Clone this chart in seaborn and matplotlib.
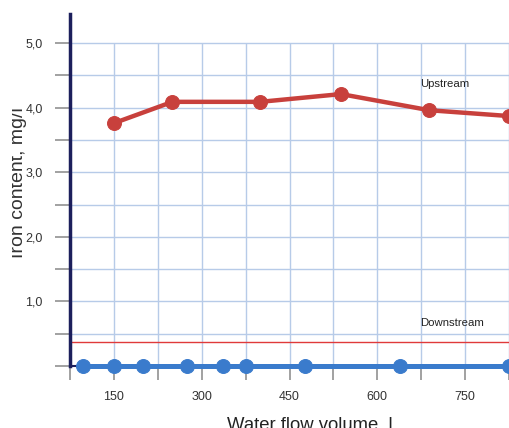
import numpy as np
import pandas as pd
import matplotlib
matplotlib.use("Agg")
import matplotlib.pyplot as plt
import seaborn as sns
from matplotlib.transforms import Bbox, TransformedBbox

# Data
upstream_x = [150, 250, 400, 538, 689, 825]
upstream_y = [3.76, 4.09, 4.09, 4.21, 3.96, 3.87]
downstream_x = [98, 150, 200, 275, 337, 375, 477, 638, 825]
downstream_y = [0, 0, 0, 0, 0, 0, 0, 0, 0]
limit_value = 0.37

x_ticks = [75, 150, 225, 300, 375, 450, 525, 600, 675, 750, 825]
x_labels = ["", "150", "", "300", "", "450", "", "600", "", "750", ""]
y_ticks = [0, 0.5, 1.0, 1.5, 2.0, 2.5, 3.0, 3.5, 4.0, 4.5, 5.0]
y_labels = ["", "", "1,0", "", "2,0", "", "3,0", "", "4,0", "", "5,0"]

sns.set_style("white")
plt.rcParams["font.family"] = ["Liberation Sans", "DejaVu Sans"]

up = pd.DataFrame({"flow": upstream_x, "iron": upstream_y})
down = pd.DataFrame({"flow": downstream_x, "iron": downstream_y})

fig = plt.figure(figsize=(5.09, 4.28), dpi=100)
ax = fig.add_axes([70 / 509, 62 / 428, 439 / 509, 352 / 428])

ax.set_xlim(75, 825)
ax.set_ylim(0, 5.45)

# grid (stops at 5,0)
grid_color = "#b7cbe8"
ax.hlines(y_ticks[1:], 75, 825, color=grid_color, lw=1.0, zorder=0)
ax.vlines(x_ticks[1:], 0, 5.0, color=grid_color, lw=1.0, zorder=0)

# limit line
ax.axhline(limit_value, color="#e03a3a", lw=1.0, zorder=1)

sns.lineplot(data=up, x="flow", y="iron", ax=ax, color="#c8403c", lw=3.2,
             marker="o", markersize=10, markeredgecolor="#c8403c",
             clip_on=False, zorder=3)
sns.lineplot(data=down, x="flow", y="iron", ax=ax, color="#3a7bcc", lw=3.6,
             marker="o", markersize=10, markeredgecolor="#3a7bcc",
             clip_on=False, zorder=4)

ax.text(716, 4.37, "Upstream", fontsize=8.2, ha="center", va="center", color="#222222")
ax.text(727, 0.67, "Downstream", fontsize=8.2, ha="center", va="center", color="#222222")

ax.set_xticks(x_ticks)
ax.set_xticklabels(x_labels)
ax.set_yticks(y_ticks)
ax.set_yticklabels(y_labels)
ax.tick_params(axis="x", bottom=True, length=10, width=1.1, color="#888888", pad=8,
               labelsize=9, labelcolor="#333333", direction="out")
ax.tick_params(axis="y", left=True, length=11, width=1.1, color="#888888", pad=8.5,
               labelsize=9, labelcolor="#333333", direction="out")

for side in ["top", "right"]:
    ax.spines[side].set_visible(False)
ax.spines["left"].set_color("#1c1f5c")
ax.spines["left"].set_linewidth(2.5)
ax.spines["left"].set_zorder(5)
ax.spines["bottom"].set_color("#1c1f5c")
ax.spines["bottom"].set_linewidth(1.5)

ax.set_xlabel("Water flow volume, l", fontsize=13.3, color="#222222")
ylab = ax.set_ylabel("Iron content, mg/l", fontsize=14, color="#333333")
ax.xaxis.set_label_coords(0.547, -0.144)
ax.yaxis.set_label_coords(-0.098, 0.52)
# the reference cuts off the tops of the y label letters
ylab.set_clip_box(TransformedBbox(Bbox([[12 / 509, 0], [1, 1]]), fig.transFigure))
ylab.set_clip_on(True)

fig.savefig("out.png", dpi=100)
plt.close(fig)
